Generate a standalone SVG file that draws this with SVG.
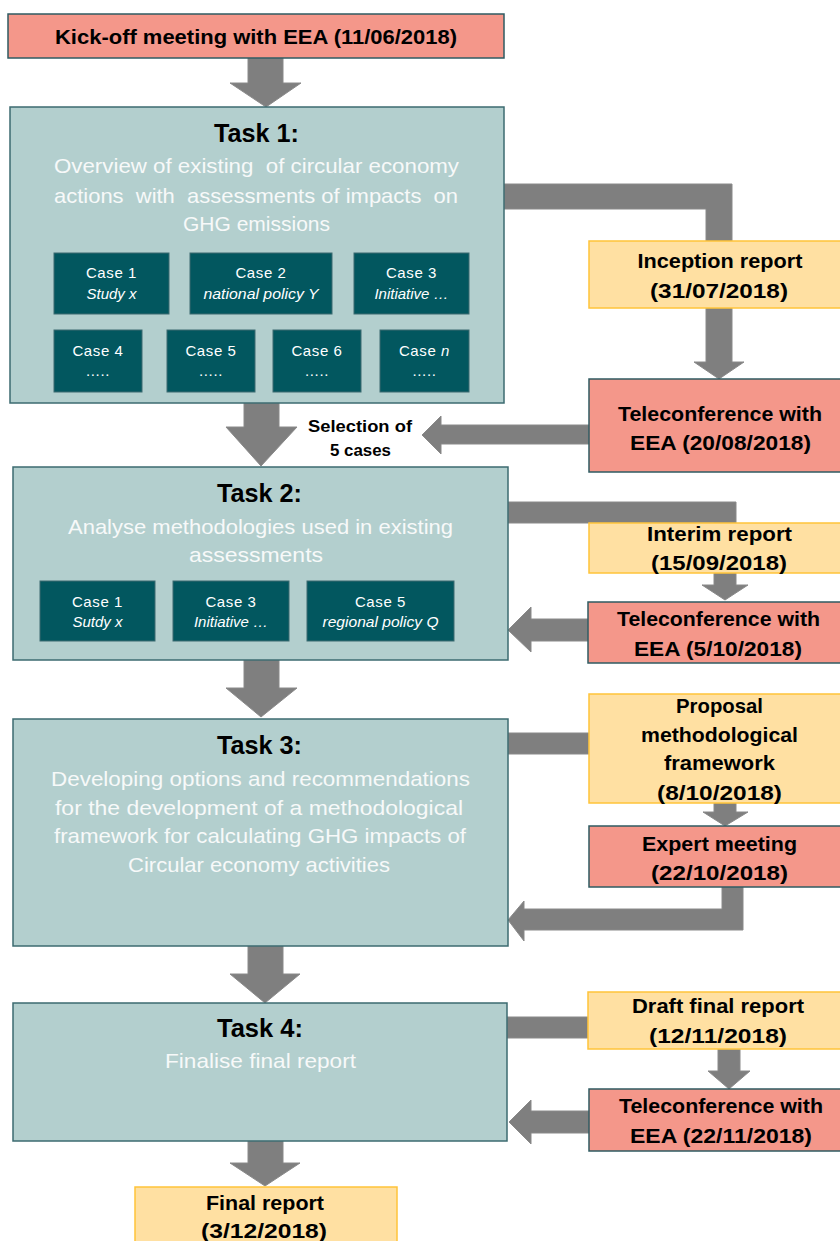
<svg xmlns="http://www.w3.org/2000/svg" width="840" height="1241" viewBox="0 0 840 1241">
<style>
.task{fill:#B3CFCE;stroke:#3C6B70;stroke-width:1.5}
.case{fill:#02575F;stroke:#3C6B70;stroke-width:1}
.meet{fill:#F4978A;stroke:#2F5B62;stroke-width:1.5}
.rep{fill:#FFE0A2;stroke:#FFC43A;stroke-width:1.5}
.arr{fill:#7F7F7F;stroke:#8A8A8A;stroke-width:1}
text{font-family:"Liberation Sans",Arial,sans-serif;text-anchor:middle}
.b{font-weight:bold;fill:#000;font-size:21px}
.title{font-weight:bold;fill:#000;font-size:26px}
.desc{fill:#F7F9F9;font-size:21px;white-space:pre}
.ct{fill:#FFFFFF;font-size:15px;letter-spacing:0.6px}
.ci{fill:#FFFFFF;font-size:15px;font-style:italic}
.sel{font-weight:bold;fill:#000;font-size:17px}
</style>

<g id="connectors">
  <polygon class="arr" points="248,58 283,58 283,83 301,83 266,107 230,83 248,83"/>
  <polygon class="arr" points="244,403 279,403 279,427 297,427 261,466 226,427 244,427"/>
  <polygon class="arr" points="244,660 279,660 279,688 297,688 261,717 226,688 244,688"/>
  <polygon class="arr" points="248,946 283,946 283,974 300,974 265,1003 230,974 248,974"/>
  <polygon class="arr" points="248,1141 283,1141 283,1163 300,1163 265,1186 230,1163 248,1163"/>
  <polygon class="arr" points="504,184 732,184 732,362 744,362 719,379 694,362 706,362 706,209 504,209"/>
  <polygon class="arr" points="589,425 441,425 441,416 422,435 441,454 441,444 589,444"/>
  <polygon class="arr" points="508,502 736,502 736,585 748,585 725,600 702,585 714,585 714,523 508,523"/>
  <polygon class="arr" points="588,619 531,619 531,607 508,630 531,652 531,641 588,641"/>
  <rect class="arr" x="508" y="733" width="81" height="21"/>
  <polygon class="arr" points="714,790 736,790 736,812 748,812 725,826 703,812 714,812"/>
  <polygon class="arr" points="722,887 743,887 743,930 524,930 524,941 508,920 524,901 524,909 722,909"/>
  <rect class="arr" x="507" y="1017" width="81" height="21"/>
  <polygon class="arr" points="718,1049 740,1049 740,1071 750,1071 729,1089 708,1071 718,1071"/>
  <polygon class="arr" points="589,1111 531,1111 531,1100 509,1122 531,1144 531,1133 589,1133"/>
</g>

<g id="kickoff">
  <rect class="meet" x="8" y="14" width="496" height="44"/>
  <text class="b" x="256" y="44" textLength="402" lengthAdjust="spacingAndGlyphs">Kick-off meeting with EEA (11/06/2018)</text>
</g>

<g id="task1">
  <rect class="task" x="10" y="107" width="494" height="296"/>
  <text class="title" x="256.5" y="142" textLength="85" lengthAdjust="spacingAndGlyphs">Task 1:</text>
  <text class="desc" x="256.5" y="173" textLength="405" lengthAdjust="spacingAndGlyphs" xml:space="preserve">Overview of existing  of circular economy</text>
  <text class="desc" x="256" y="203" textLength="404" lengthAdjust="spacingAndGlyphs" xml:space="preserve">actions  with  assessments of impacts  on</text>
  <text class="desc" x="256.5" y="231" textLength="147" lengthAdjust="spacingAndGlyphs">GHG emissions</text>
</g>
<g id="t1case1"><rect class="case" x="54" y="253" width="115" height="61"/><text class="ct" x="111.5" y="278">Case 1</text><text class="ci" x="111.5" y="299">Study x</text></g>
<g id="t1case2"><rect class="case" x="190" y="253" width="142" height="61"/><text class="ct" x="261" y="278">Case 2</text><text class="ci" x="261" y="299" textLength="115" lengthAdjust="spacingAndGlyphs">national policy Y</text></g>
<g id="t1case3"><rect class="case" x="354" y="253" width="115" height="61"/><text class="ct" x="411.5" y="278">Case 3</text><text class="ci" x="411.5" y="299">Initiative …</text></g>
<g id="t1case4"><rect class="case" x="54" y="330" width="88" height="62"/><text class="ct" x="98" y="356">Case 4</text><text class="ct" x="98" y="376">.....</text></g>
<g id="t1case5"><rect class="case" x="167" y="330" width="88" height="62"/><text class="ct" x="211" y="356">Case 5</text><text class="ct" x="211" y="376">.....</text></g>
<g id="t1case6"><rect class="case" x="273" y="330" width="88" height="62"/><text class="ct" x="317" y="356">Case 6</text><text class="ct" x="317" y="376">.....</text></g>
<g id="t1casen"><rect class="case" x="380" y="330" width="89" height="62"/><text class="ct" x="424.5" y="356">Case <tspan font-style="italic">n</tspan></text><text class="ct" x="424.5" y="376">.....</text></g>

<g id="inception">
  <rect class="rep" x="589" y="241" width="260" height="67"/>
  <text class="b" x="720" y="268" textLength="165" lengthAdjust="spacingAndGlyphs">Inception report</text>
  <text class="b" x="719" y="298" textLength="138" lengthAdjust="spacingAndGlyphs">(31/07/2018)</text>
</g>

<g id="tele1">
  <rect class="meet" x="589" y="379" width="260" height="93"/>
  <text class="b" x="720" y="421" textLength="204" lengthAdjust="spacingAndGlyphs">Teleconference with</text>
  <text class="b" x="720.5" y="450" textLength="181" lengthAdjust="spacingAndGlyphs">EEA (20/08/2018)</text>
</g>

<g id="selection">
  <text class="sel" x="360" y="432" textLength="104" lengthAdjust="spacingAndGlyphs">Selection of</text>
  <text class="sel" x="360.5" y="456" textLength="61" lengthAdjust="spacingAndGlyphs">5 cases</text>
</g>

<g id="task2">
  <rect class="task" x="13" y="467" width="495" height="193"/>
  <text class="title" x="259.5" y="502" textLength="85" lengthAdjust="spacingAndGlyphs">Task 2:</text>
  <text class="desc" x="260.5" y="534" textLength="385" lengthAdjust="spacingAndGlyphs">Analyse methodologies used in existing</text>
  <text class="desc" x="256" y="562" textLength="134" lengthAdjust="spacingAndGlyphs">assessments</text>
</g>
<g id="t2case1"><rect class="case" x="40" y="581" width="115" height="60"/><text class="ct" x="97.5" y="607">Case 1</text><text class="ci" x="97.5" y="627">Sutdy x</text></g>
<g id="t2case3"><rect class="case" x="173" y="581" width="116" height="60"/><text class="ct" x="231" y="607">Case 3</text><text class="ci" x="231" y="627">Initiative …</text></g>
<g id="t2case5"><rect class="case" x="307" y="581" width="147" height="60"/><text class="ct" x="380.5" y="607">Case 5</text><text class="ci" x="380.5" y="627" textLength="116" lengthAdjust="spacingAndGlyphs">regional policy Q</text></g>

<g id="interim">
  <rect class="rep" x="589" y="523" width="260" height="50"/>
  <text class="b" x="719.5" y="541" textLength="145" lengthAdjust="spacingAndGlyphs">Interim report</text>
  <text class="b" x="719" y="570" textLength="136" lengthAdjust="spacingAndGlyphs">(15/09/2018)</text>
</g>

<g id="tele2">
  <rect class="meet" x="588" y="602" width="260" height="61"/>
  <text class="b" x="718.5" y="626" textLength="203" lengthAdjust="spacingAndGlyphs">Teleconference with</text>
  <text class="b" x="718" y="656" textLength="168" lengthAdjust="spacingAndGlyphs">EEA (5/10/2018)</text>
</g>

<g id="task3">
  <rect class="task" x="13" y="719" width="495" height="227"/>
  <text class="title" x="259.5" y="754" textLength="85" lengthAdjust="spacingAndGlyphs">Task 3:</text>
  <text class="desc" x="260.5" y="786" textLength="419" lengthAdjust="spacingAndGlyphs">Developing options and recommendations</text>
  <text class="desc" x="259" y="815" textLength="408" lengthAdjust="spacingAndGlyphs">for the development of a methodological</text>
  <text class="desc" x="260" y="843" textLength="412" lengthAdjust="spacingAndGlyphs">framework for calculating GHG impacts of</text>
  <text class="desc" x="259" y="872" textLength="262" lengthAdjust="spacingAndGlyphs">Circular economy activities</text>
</g>

<g id="proposal">
  <rect class="rep" x="589" y="694" width="260" height="109"/>
  <text class="b" x="719.5" y="713" textLength="87" lengthAdjust="spacingAndGlyphs">Proposal</text>
  <text class="b" x="719.5" y="742" textLength="157" lengthAdjust="spacingAndGlyphs">methodological</text>
  <text class="b" x="719.5" y="770" textLength="111" lengthAdjust="spacingAndGlyphs">framework</text>
  <text class="b" x="719.5" y="800" textLength="125" lengthAdjust="spacingAndGlyphs">(8/10/2018)</text>
</g>

<g id="expert">
  <rect class="meet" x="589" y="826" width="260" height="61"/>
  <text class="b" x="719.5" y="851" textLength="155" lengthAdjust="spacingAndGlyphs">Expert meeting</text>
  <text class="b" x="719.5" y="880" textLength="137" lengthAdjust="spacingAndGlyphs">(22/10/2018)</text>
</g>

<g id="task4">
  <rect class="task" x="13" y="1003" width="494" height="138"/>
  <text class="title" x="260" y="1037" textLength="86" lengthAdjust="spacingAndGlyphs">Task 4:</text>
  <text class="desc" x="260.5" y="1068" textLength="191" lengthAdjust="spacingAndGlyphs">Finalise final report</text>
</g>

<g id="draft">
  <rect class="rep" x="588" y="992" width="260" height="57"/>
  <text class="b" x="718" y="1013" textLength="172" lengthAdjust="spacingAndGlyphs">Draft final report</text>
  <text class="b" x="718" y="1043" textLength="138" lengthAdjust="spacingAndGlyphs">(12/11/2018)</text>
</g>

<g id="tele3">
  <rect class="meet" x="589" y="1089" width="260" height="62"/>
  <text class="b" x="721" y="1113" textLength="204" lengthAdjust="spacingAndGlyphs">Teleconference with</text>
  <text class="b" x="721" y="1143" textLength="182" lengthAdjust="spacingAndGlyphs">EEA (22/11/2018)</text>
</g>

<g id="final">
  <rect class="rep" x="135" y="1187" width="262" height="70"/>
  <text class="b" x="265" y="1210" textLength="118" lengthAdjust="spacingAndGlyphs">Final report</text>
  <text class="b" x="264" y="1238" textLength="126" lengthAdjust="spacingAndGlyphs">(3/12/2018)</text>
</g>
</svg>
